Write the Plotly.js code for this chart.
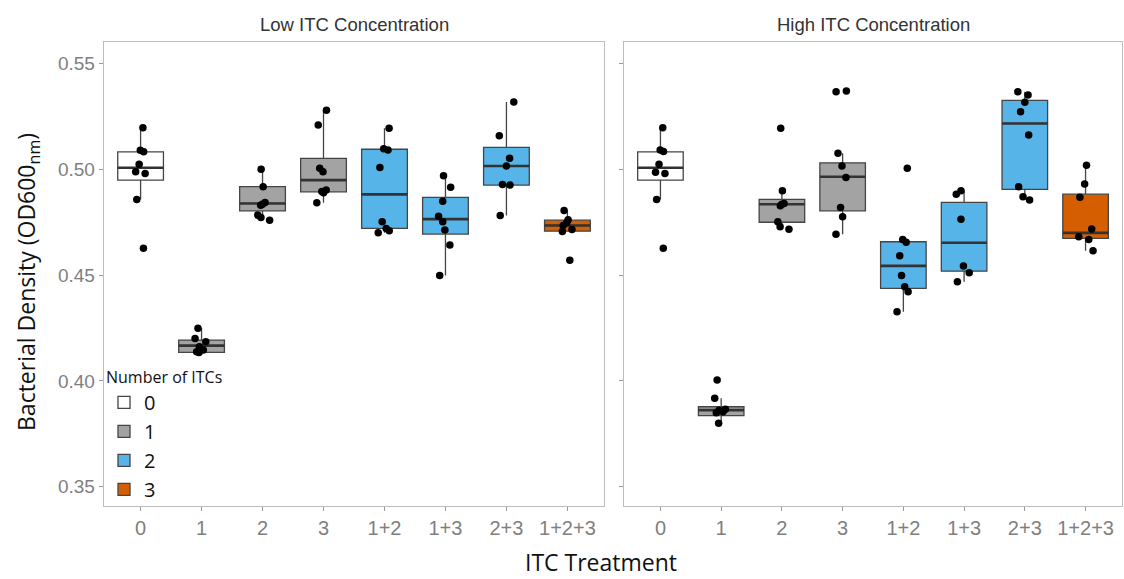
<!DOCTYPE html>
<html>
<head>
<meta charset="utf-8">
<script src="https://cdn.plot.ly/plotly-3.0.1.min.js"></script>
<style>html,body{margin:0;padding:0;background:#fff;}#chart{width:1124px;height:579px;}</style>
</head>
<body>
<div id="chart"></div>
<script>
// ---- data ----
const categories = ['0', '1', '2', '3', '1+2', '1+3', '2+3', '1+2+3'];
const numITCs = [0, 1, 1, 1, 2, 2, 2, 3];
const groupNames = ['0', '1', '2', '3'];
const groupColors = ['#FFFFFF', '#A3A3A3', '#56B4E9', '#D55E00'];
const panelTitles = ['Low ITC Concentration', 'High ITC Concentration'];
const yTicks = [0.35, 0.40, 0.45, 0.50, 0.55];

// individual measurements (Low ITC)
const lowPoints = [
  [0.5197, 0.5090, 0.5083, 0.5024, 0.4989, 0.4981, 0.4858, 0.4627],
  [0.4249, 0.4201, 0.4185, 0.4162, 0.4146, 0.4138, 0.4135],
  [0.5001, 0.4918, 0.4844, 0.4835, 0.4831, 0.4784, 0.4772, 0.4760],
  [0.5280, 0.5210, 0.5005, 0.4989, 0.4902, 0.4895, 0.4889, 0.4842],
  [0.5194, 0.5098, 0.5092, 0.5009, 0.4752, 0.4721, 0.4710, 0.4700],
  [0.4970, 0.4915, 0.4849, 0.4779, 0.4752, 0.4713, 0.4642, 0.4499],
  [0.5318, 0.5159, 0.5052, 0.5016, 0.4929, 0.4926, 0.4782],
  [0.4806, 0.4762, 0.4748, 0.4735, 0.4716, 0.4706, 0.4570]
];
// individual measurements (High ITC)
const highPoints = [
  [0.5197, 0.5091, 0.5085, 0.5024, 0.4986, 0.4981, 0.4858, 0.4627],
  [0.4004, 0.3918, 0.3866, 0.3862, 0.3855, 0.3850, 0.3800],
  [0.5194, 0.4899, 0.4839, 0.4835, 0.4828, 0.4752, 0.4729, 0.4717],
  [0.5371, 0.5367, 0.5076, 0.5016, 0.4962, 0.4820, 0.4776, 0.4693],
  [0.5005, 0.4669, 0.4655, 0.4592, 0.4499, 0.4445, 0.4422, 0.4327],
  [0.4899, 0.4883, 0.4764, 0.4543, 0.4511, 0.4469],
  [0.5367, 0.5351, 0.5317, 0.5272, 0.5162, 0.4918, 0.4871, 0.4855],
  [0.5020, 0.4931, 0.4868, 0.4718, 0.4681, 0.4669, 0.4615]
];

// box statistics as drawn (Low ITC)
const lowQ1     = [0.4949, 0.4135, 0.4804, 0.4894, 0.4721, 0.4694, 0.4926, 0.4708];
const lowMedian = [0.5008, 0.4167, 0.4839, 0.4949, 0.4882, 0.4765, 0.5016, 0.4735];
const lowQ3     = [0.5083, 0.4193, 0.4918, 0.5052, 0.5095, 0.4868, 0.5104, 0.4760];
const lowLower  = [0.4858, 0.4135, 0.4760, 0.4842, 0.4700, 0.4499, 0.4782, 0.4706];
const lowUpper  = [0.5197, 0.4249, 0.5001, 0.5280, 0.5194, 0.4970, 0.5318, 0.4806];
// box statistics as drawn (High ITC)
const highQ1     = [0.4949, 0.3836, 0.4750, 0.4804, 0.4438, 0.4519, 0.4905, 0.4674];
const highMedian = [0.5008, 0.3862, 0.4835, 0.4965, 0.4544, 0.4653, 0.5217, 0.4700];
const highQ3     = [0.5083, 0.3878, 0.4858, 0.5031, 0.4658, 0.4844, 0.5326, 0.4883];
const highLower  = [0.4858, 0.3800, 0.4717, 0.4693, 0.4327, 0.4469, 0.4855, 0.4615];
const highUpper  = [0.5197, 0.3918, 0.4899, 0.5076, 0.4669, 0.4899, 0.5367, 0.5020];

// ---- build traces ----
const panels = [
  {pts: lowPoints, q1: lowQ1, med: lowMedian, q3: lowQ3, lo: lowLower, hi: lowUpper, xa: 'x', ya: 'y'},
  {pts: highPoints, q1: highQ1, med: highMedian, q3: highQ3, lo: highLower, hi: highUpper, xa: 'x2', ya: 'y2'}
];
const BOXW = 0.75;
const traces = [];
panels.forEach((p, pi) => {
  groupNames.forEach((g, gi) => {
    const idx = categories.map((c, i) => i).filter(i => numITCs[i] === gi);
    traces.push({
      type: 'box', xaxis: p.xa, yaxis: p.ya,
      name: g, legendgroup: 'g' + g, showlegend: pi === 0,
      x: idx.map(i => categories[i]),
      q1: idx.map(i => p.q1[i]), median: idx.map(i => p.med[i]), q3: idx.map(i => p.q3[i]),
      lowerfence: idx.map(i => p.lo[i]), upperfence: idx.map(i => p.hi[i]),
      fillcolor: groupColors[gi], line: {color: '#454545', width: 1.3},
      width: BOXW, whiskerwidth: 0, boxpoints: false, hoverinfo: 'skip'
    });
  });
  // thick median lines
  traces.push({
    type: 'box', xaxis: p.xa, yaxis: p.ya, showlegend: false,
    x: categories, q1: p.med, median: p.med, q3: p.med, lowerfence: p.med, upperfence: p.med,
    fillcolor: 'rgba(0,0,0,0)', line: {color: '#333333', width: 2.6},
    width: BOXW, whiskerwidth: 0, boxpoints: false, hoverinfo: 'skip'
  });
  // jittered points
  const xs = [], ys = [];
  p.pts.forEach((arr, i) => arr.forEach(v => { xs.push(categories[i]); ys.push(v); }));
  traces.push({
    type: 'box', xaxis: p.xa, yaxis: p.ya, showlegend: false,
    x: xs, y: ys, boxpoints: 'all', jitter: 0.35, pointpos: 0, width: BOXW,
    fillcolor: 'rgba(0,0,0,0)', line: {color: 'rgba(0,0,0,0)', width: 0},
    whiskerwidth: 0, marker: {color: '#000000', size: 7.5}, hoveron: 'points'
  });
});

const W = 1124, H = 579;
const px = v => v / W, py = v => 1 - v / H;
const axisBase = {
  showline: true, mirror: true, linecolor: '#bdbdbd', linewidth: 1.3,
  showgrid: false, zeroline: false, ticks: 'outside', ticklen: 4, tickwidth: 1,
  tickcolor: '#9a9a9a'
};
const xTickFont = {family: 'Liberation Sans, Arial, sans-serif', size: 20, color: '#7f7f7f'};
const yTickFont = {family: 'Liberation Sans, Arial, sans-serif', size: 19, color: '#7f7f7f'};
const yRange = [0.3409, 0.5602];
const xRange = [-0.6, 7.6];

const layout = {
  width: W, height: H, margin: {l: 0, r: 0, t: 0, b: 0},
  paper_bgcolor: '#ffffff', plot_bgcolor: '#ffffff',
  boxmode: 'overlay',
  xaxis: Object.assign({}, axisBase, {type: 'category', domain: [px(104), px(604)], range: xRange, anchor: 'y', tickfont: xTickFont}),
  xaxis2: Object.assign({}, axisBase, {type: 'category', domain: [px(624), px(1122)], range: xRange, anchor: 'y2', tickfont: xTickFont}),
  yaxis: Object.assign({}, axisBase, {domain: [py(506), py(42)], range: yRange, tickvals: yTicks, ticktext: yTicks.map(v => v.toFixed(2)), anchor: 'x', tickfont: yTickFont}),
  yaxis2: Object.assign({}, axisBase, {domain: [py(506), py(42)], range: yRange, tickvals: yTicks, showticklabels: false, anchor: 'x2', tickfont: yTickFont}),
  showlegend: true,
  legend: {
    x: px(104), y: py(362), xanchor: 'left', yanchor: 'top',
    bgcolor: 'rgba(0,0,0,0)', tracegroupgap: 0,
    font: {family: 'Open Sans, sans-serif', size: 20, color: '#111'},
    title: {text: 'Number of ITCs', font: {family: 'Open Sans, sans-serif', size: 16, color: '#111'}}
  },
  annotations: [
    {text: panelTitles[0], x: px(354), y: py(24), xref: 'paper', yref: 'paper', xanchor: 'center', yanchor: 'middle', showarrow: false,
     font: {family: 'Liberation Sans, Arial, sans-serif', size: 18.5, color: '#333'}},
    {text: panelTitles[1], x: px(873), y: py(24), xref: 'paper', yref: 'paper', xanchor: 'center', yanchor: 'middle', showarrow: false,
     font: {family: 'Liberation Sans, Arial, sans-serif', size: 18.5, color: '#333'}},
    {text: 'Bacterial Density (OD600<sub>nm</sub>)', x: px(27), y: py(282), xref: 'paper', yref: 'paper',
     xanchor: 'center', yanchor: 'middle',
     showarrow: false, textangle: -90, font: {family: 'Open Sans, sans-serif', size: 23, color: '#111'}},
    {text: 'ITC Treatment', x: px(601), y: py(562), xref: 'paper', yref: 'paper', xanchor: 'center', yanchor: 'middle', showarrow: false,
     font: {family: 'Open Sans, sans-serif', size: 23, color: '#111'}}
  ]
};

Plotly.newPlot('chart', traces, layout, {staticPlot: true, displayModeBar: false});
</script>
</body>
</html>
